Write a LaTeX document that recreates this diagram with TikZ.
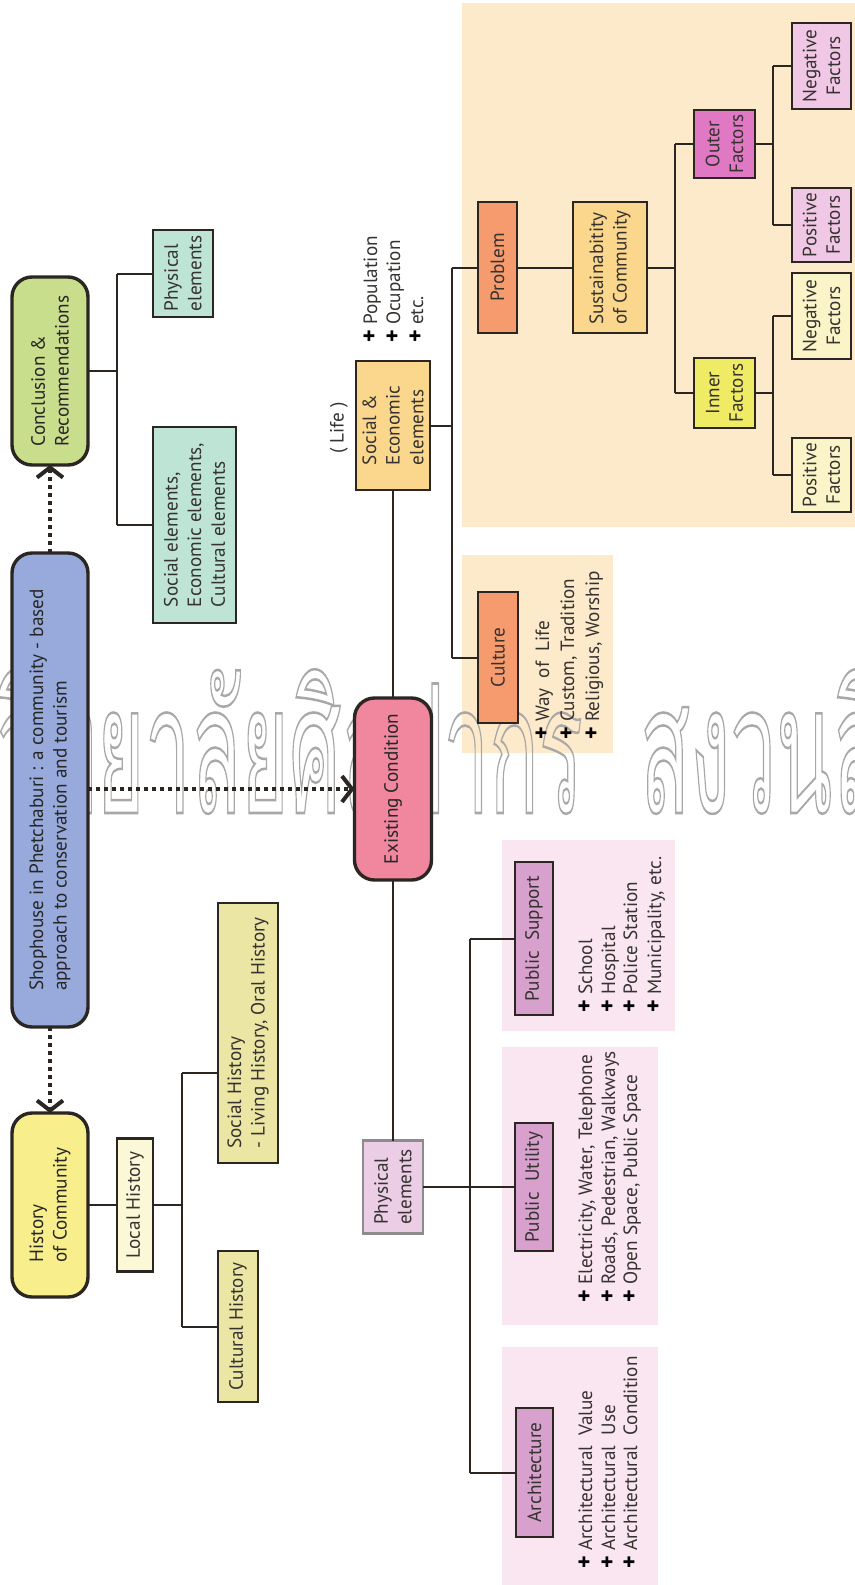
\documentclass[tikz,border=0pt]{standalone}
\usepackage{fontspec}
\setmainfont{PT Sans}
\newfontfamily\thaifont[Script=Thai]{Loma}
\usetikzlibrary{arrows.meta}

% palette
\definecolor{edge}{HTML}{2B2622}
\definecolor{txt}{HTML}{353230}
\definecolor{cgreen}{HTML}{C8DE8C}
\definecolor{cblue}{HTML}{97AADB}
\definecolor{cyellow}{HTML}{F8EE8C}
\definecolor{cpink}{HTML}{F0879F}
\definecolor{cteal}{HTML}{BEE4D6}
\definecolor{ccream}{HTML}{FAF8D7}
\definecolor{ckhaki}{HTML}{ECE6A5}
\definecolor{capricot}{HTML}{FAD78C}
\definecolor{clilac}{HTML}{EBCDE6}
\definecolor{cmauve}{HTML}{D7A0CD}
\definecolor{csalmon}{HTML}{F59B6E}
\definecolor{cmagenta}{HTML}{E178C3}
\definecolor{clemon}{HTML}{F0EB64}
\definecolor{cpalepink}{HTML}{F0C8E6}
\definecolor{cpaleyel}{HTML}{FAF4C8}
\definecolor{panelpeach}{HTML}{FDEACB}
\definecolor{panelpink}{HTML}{FAE6F0}
\definecolor{wmgray}{HTML}{A8A8A8}

% outlined (stroked, unfilled) text for the watermark
\newcommand\strokedtext[1]{\special{pdf:literal direct 1 Tr 0.9 w}#1\special{pdf:literal direct 0 Tr}}
% heavy bullet cross for the lists
\newcommand\plusmark{{\fontsize{12}{12}\selectfont\bfseries\color{black}+}}

\begin{document}
\begin{tikzpicture}[x=0.5pt,y=-0.5pt,
  box/.style={draw=edge, line width=1.3pt, rotate=90, inner sep=0pt, outer sep=0pt,
    align=center, text=txt, font=\fontsize{9.6}{11.8}\selectfont},
  rbox/.style={box, line width=1.7pt, rounded corners=10pt, text=black!85},
  item/.style={rotate=90, anchor=base west, inner sep=0pt, text=txt,
    font=\fontsize{9.6}{11.8}\selectfont},
  conn/.style={draw=edge, line width=1pt},
  dotarrow/.style={draw=edge, line width=2pt, dash pattern=on 2pt off 2pt,
    -{Straight Barb[length=5pt,width=13pt,line width=2pt]}},
  wm/.style={inner sep=0pt, xscale=0.64, yscale=1.4, text=wmgray,
    font=\thaifont\fontsize{64}{64}\selectfont}
]
\clip (0,0) rectangle (855,1585);
\fill[white] (0,0) rectangle (855,1585);

% shaded panels
\fill[panelpeach] (462,3) rectangle (855,527);
\fill[panelpeach] (462,555) rectangle (613,753);
\fill[panelpink] (502,840) rectangle (675,1031);
\fill[panelpink] (502,1047) rectangle (658,1325);
\fill[panelpink] (502,1347) rectangle (658,1585);

% watermark
\node[wm, anchor=base east] (wma) at (583,813) {\strokedtext{มหาวิทยาลัยศิลปากร}};
\node[wm, anchor=base west] (wmb) at (640,813) {\strokedtext{สงวนลิขสิทธิ์}};

% main column
\node[rbox, fill=cgreen, minimum width=94pt, minimum height=38pt, align=left]
  (concl) at (50,371) {Conclusion \&\\Recommendations};
\node[rbox, fill=cblue, minimum width=237pt, minimum height=38pt, align=left]
  (shop) at (50,790) {Shophouse in Phetchaburi : a community - based\\approach to conservation and tourism};
\node[rbox, fill=cyellow, minimum width=92pt, minimum height=38pt, align=left]
  (hist) at (50,1205) {History\\of Community};
\node[rbox, fill=cpink, minimum width=91pt, minimum height=38.5pt]
  (exist) at (393,789) {Existing Condition};

% conclusion branch
\node[box, fill=cteal, minimum width=43.5pt, minimum height=30pt, align=left]
  (phys1) at (183,273.5) {Physical\\elements};
\node[box, fill=cteal, minimum width=98pt, minimum height=41.5pt, align=left]
  (socel) at (194.5,525) {Social elements,\\Economic elements,\\Cultural elements};

% history branch
\node[box, fill=ccream, minimum width=66.5pt, minimum height=18pt]
  (local) at (135,1205) {Local History};
\node[box, fill=ckhaki, minimum width=130pt, minimum height=30pt, align=left]
  (sochist) at (248,1033) {Social History\\ - Living History, Oral History};
\node[box, fill=ckhaki, minimum width=75.5pt, minimum height=20pt]
  (culthist) at (238,1326.5) {Cultural History};

% life branch
\node[box, fill=capricot, minimum width=64.5pt, minimum height=37pt, align=left]
  (socecon) at (393,425.5) {Social \&\\Economic\\elements};
\node[rotate=90, inner sep=0pt, text=txt, font=\fontsize{9.6}{11.8}\selectfont]
  (life) at (339,428) {( Life )};
\node[item] (pop1) at (377,343) {\plusmark\ Population};
\node[item] (pop2) at (400,343) {\plusmark\ Ocupation};
\node[item] (pop3) at (423,343) {\plusmark\ etc.};

\node[box, fill=csalmon, minimum width=65.5pt, minimum height=20pt]
  (culture) at (498,657.5) {Culture};
\node[item] (cul1) at (549,740) {\plusmark\ Way\ \ of\ \ Life};
\node[item] (cul2) at (574,740) {\plusmark\ Custom, Tradition};
\node[item] (cul3) at (599,740) {\plusmark\ Religious, Worship};

\node[box, fill=csalmon, minimum width=65.5pt, minimum height=19.5pt]
  (problem) at (497.5,267.5) {Problem};
\node[box, fill=capricot, minimum width=65.5pt, minimum height=37pt, align=left]
  (sustain) at (610,267.5) {Sustainabitity\\of Community};
\node[box, fill=cmagenta, minimum width=34pt, minimum height=30.5pt]
  (outer) at (724.5,144) {Outer\\Factors};
\node[box, fill=clemon, minimum width=35pt, minimum height=30.5pt]
  (inner) at (724.5,393) {Inner\\Factors};
\node[box, fill=cpalepink, minimum width=43pt, minimum height=29.5pt]
  (negout) at (821.5,66) {Negative\\Factors};
\node[box, fill=cpalepink, minimum width=37pt, minimum height=29.5pt]
  (posout) at (821.5,225) {Positive\\Factors};
\node[box, fill=cpaleyel, minimum width=43pt, minimum height=29.5pt]
  (neginn) at (821.5,316) {Negative\\Factors};
\node[box, fill=cpaleyel, minimum width=37pt, minimum height=29.5pt]
  (posinn) at (821.5,475) {Positive\\Factors};

% physical branch
\node[box, draw=black!45, fill=clilac, minimum width=46.5pt, minimum height=30pt, align=left]
  (phys2) at (393,1187) {Physical\\elements};
\node[box, fill=cmauve, minimum width=76.5pt, minimum height=19pt]
  (pubsup) at (534,938.5) {Public\ \ Support};
\node[box, fill=cmauve, minimum width=64pt, minimum height=19pt]
  (pubutil) at (534,1187) {Public\ \ Utility};
\node[box, fill=cmauve, minimum width=64.5pt, minimum height=18.5pt]
  (arch) at (534.5,1472.5) {Architecture};

\node[item] (ps1) at (592,1013) {\plusmark\ School};
\node[item] (ps2) at (615,1013) {\plusmark\ Hospital};
\node[item] (ps3) at (637,1013) {\plusmark\ Police Station};
\node[item] (ps4) at (661,1013) {\plusmark\ Municipality, etc.};

\node[item] (pu1) at (592,1303) {\plusmark\ Electricity, Water, Telephone};
\node[item] (pu2) at (615,1303) {\plusmark\ Roads, Pedestrian, Walkways};
\node[item] (pu3) at (637,1303) {\plusmark\ Open Space, Public Space};

\node[item] (ar1) at (592,1569) {\plusmark\ Architectural\ \ Value};
\node[item] (ar2) at (615,1569) {\plusmark\ Architectural\ \ Use};
\node[item] (ar3) at (637,1569) {\plusmark\ Architectural\ \ Condition};

% dotted arrows from the central theme
\draw[dotarrow] (shop.east) -- (concl.west);
\draw[dotarrow] (shop.west) -- (hist.east);
\draw[dotarrow] (shop.south |- exist.north) -- (exist.north);

% conclusion tree
\coordinate (jc) at (117,0);
\draw[conn] (concl.south) -- (concl.south -| jc);
\draw[conn] (phys1.north -| jc) -- (socel.north -| jc);
\draw[conn] (phys1.north -| jc) -- (phys1.north);
\draw[conn] (socel.north -| jc) -- (socel.north);

% history tree
\coordinate (jh) at (182,0);
\coordinate (ysh) at (0,1073);
\draw[conn] (hist.south) -- (local.north);
\draw[conn] (local.south) -- (local.south -| jh);
\draw[conn] (ysh -| jh) -- (culthist.north -| jh);
\draw[conn] (ysh -| jh) -- (ysh -| sochist.north);
\draw[conn] (culthist.north -| jh) -- (culthist.north);

% existing condition links
\draw[conn] (exist.east) -- (exist.east |- socecon.west);
\draw[conn] (exist.west) -- (exist.west |- phys2.east);

% life tree
\coordinate (js) at (452,0);
\draw[conn] (socecon.south) -- (socecon.south -| js);
\draw[conn] (problem.north -| js) -- (culture.north -| js);
\draw[conn] (problem.north -| js) -- (problem.north);
\draw[conn] (culture.north -| js) -- (culture.north);
\draw[conn] (problem.south) -- (sustain.north);
\coordinate (jf) at (675,0);
\draw[conn] (sustain.south) -- (sustain.south -| jf);
\draw[conn] (outer.north -| jf) -- (inner.north -| jf);
\draw[conn] (outer.north -| jf) -- (outer.north);
\draw[conn] (inner.north -| jf) -- (inner.north);
\coordinate (jo) at (773,0);
\draw[conn] (outer.south) -- (outer.south -| jo);
\draw[conn] (negout.north -| jo) -- (posout.north -| jo);
\draw[conn] (negout.north -| jo) -- (negout.north);
\draw[conn] (posout.north -| jo) -- (posout.north);
\draw[conn] (inner.south) -- (inner.south -| jo);
\draw[conn] (neginn.north -| jo) -- (posinn.north -| jo);
\draw[conn] (neginn.north -| jo) -- (neginn.north);
\draw[conn] (posinn.north -| jo) -- (posinn.north);

% physical tree
\coordinate (jp) at (470,0);
\draw[conn] (phys2.south) -- (pubutil.north);
\draw[conn] (pubsup.north -| jp) -- (arch.north -| jp);
\draw[conn] (pubsup.north -| jp) -- (pubsup.north);
\draw[conn] (arch.north -| jp) -- (arch.north);
\end{tikzpicture}
\end{document}
